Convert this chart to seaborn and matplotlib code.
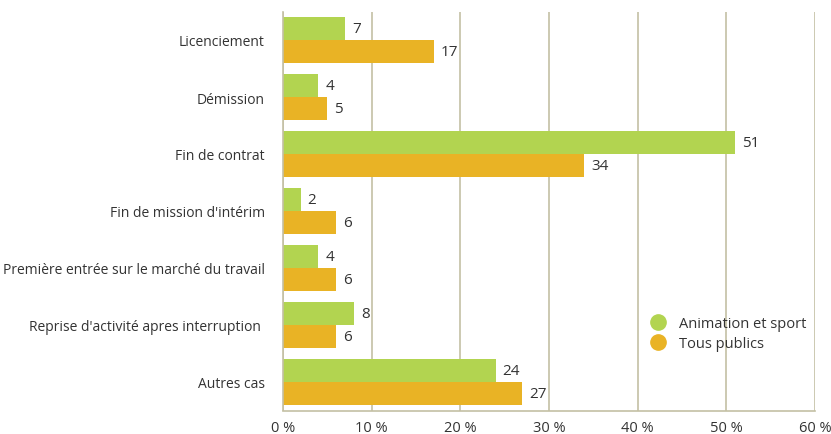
import matplotlib
matplotlib.use("Agg")
import matplotlib.pyplot as plt
import seaborn as sns
import pandas as pd
from matplotlib.lines import Line2D

categories = ["Licenciement", "Démission", "Fin de contrat", "Fin de mission d'intérim",
              "Première entrée sur le marché du travail", "Reprise d'activité apres interruption ",
              "Autres cas"]
series = ["Animation et sport", "Tous publics"]
animation = [7, 4, 51, 2, 4, 8, 24]
tous = [17, 5, 34, 6, 6, 6, 27]
xticks = [0, 10, 20, 30, 40, 50, 60]
xticklabels = ["0 %", "10 %", "20 %", "30 %", "40 %", "50 %", "60 %"]

colors = ["#b2d450", "#e9b325"]
grid_c = "#c4c0a4"
text_c = "#333333"

df = pd.DataFrame({
    "cat": categories * 2,
    "serie": [series[0]] * len(categories) + [series[1]] * len(categories),
    "val": animation + tous,
})

sns.set_theme(style="white")
plt.rcParams["font.family"] = ["Open Sans", "DejaVu Sans"]

fig = plt.figure(figsize=(8.31, 4.35), dpi=100)
ax = fig.add_axes([283/831, 1 - 411.5/435, (815-283)/831, (411.5-12.5)/435])

sns.barplot(data=df, y="cat", x="val", hue="serie", orient="h", palette=colors,
            width=0.8, ax=ax, saturation=1, legend=False, errorbar=None,
            linewidth=0, edgecolor="none")

ax.set_xlim(0, 60)
ax.set_xticks(xticks)
ax.set_xticklabels(xticklabels, fontsize=10.5, color=text_c)
ax.tick_params(axis="y", labelsize=10, labelcolor=text_c, length=0, pad=13)
ax.tick_params(axis="x", length=0, pad=7)
ax.set_xlabel("")
ax.set_ylabel("")
ax.set_axisbelow(True)
ax.xaxis.grid(True, color=grid_c, linewidth=1.2)
ax.yaxis.grid(False)
for s in ["top", "right"]:
    ax.spines[s].set_visible(False)
for s in ["left", "bottom"]:
    ax.spines[s].set_color(grid_c)
    ax.spines[s].set_linewidth(1.2)

for cont in ax.containers:
    ax.bar_label(cont, labels=[f"{int(v)}" for v in cont.datavalues], padding=5,
                 fontsize=11, color=text_c)

handles = [Line2D([0], [0], marker="o", linestyle="", markersize=11,
                  markerfacecolor=c, markeredgecolor=c) for c in colors]
ax.legend(handles, series, loc="upper left", bbox_to_anchor=(0.653, 0.27),
          frameon=False, fontsize=10.5, handletextpad=0.4, labelspacing=0.35,
          labelcolor=text_c)

fig.savefig("out.png", dpi=100)
